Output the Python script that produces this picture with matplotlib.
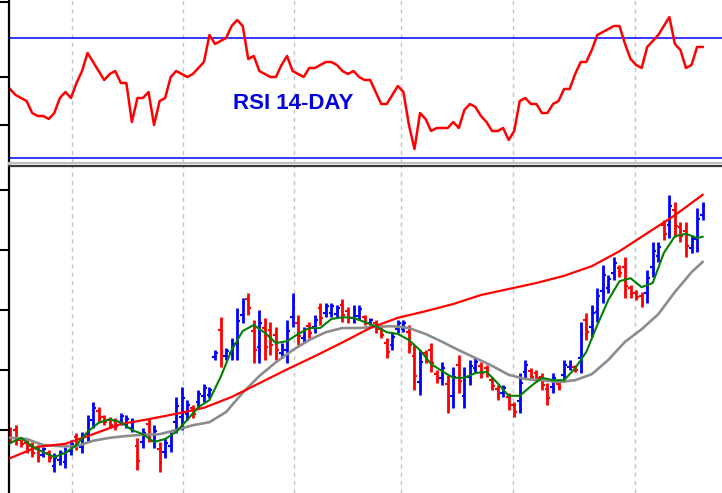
import numpy as np
import matplotlib.pyplot as plt

# daily OHLC bars
high = [50.5, 50.8, 48.8, 48.3, 48.0, 47.5, 47.2, 46.7, 46.2, 46.7,
        47.2, 48.3, 49.5, 49.7, 52.5, 54.7, 53.8, 52.5, 52.2, 52.0,
        52.8, 52.5, 52.0, 48.7, 50.3, 52.0, 50.8, 48.0, 48.7, 49.7,
        55.5, 57.2, 55.0, 54.2, 56.7, 57.7, 57.2, 63.3, 68.8, 63.7,
        65.3, 70.3, 72.0, 72.8, 68.3, 70.0, 68.7, 68.0, 67.2, 64.5,
        68.3, 72.8, 69.2, 67.2, 68.0, 69.2, 71.2, 71.2, 71.2, 70.8,
        71.8, 70.5, 70.8, 70.8, 69.2, 68.7, 68.3, 67.5, 65.3, 66.3,
        68.3, 68.3, 67.5, 64.2, 63.3, 63.3, 64.5, 60.0, 61.3, 59.2,
        60.5, 62.5, 60.5, 61.7, 62.0, 61.3, 60.8, 58.8, 57.5, 57.5,
        56.2, 54.7, 59.5, 61.7, 60.3, 60.0, 59.5, 57.8, 59.5, 58.0,
        61.7, 61.7, 60.8, 68.0, 69.5, 70.8, 73.7, 77.5, 75.8, 78.8,
        77.5, 78.8, 74.2, 73.3, 73.0, 76.7, 81.3, 81.3, 85.0, 89.2,
        88.0, 84.7, 84.7, 82.5, 87.0, 88.0]
low = [47.8, 47.5, 47.2, 46.2, 45.5, 44.7, 45.5, 44.7, 43.0, 44.2,
       43.7, 45.8, 46.7, 46.2, 48.0, 50.3, 51.3, 50.8, 50.3, 50.0,
       50.8, 50.3, 49.7, 43.3, 47.0, 48.0, 47.0, 43.0, 45.3, 46.3,
       49.5, 50.0, 51.7, 52.0, 53.7, 54.7, 55.3, 61.7, 60.5, 61.7,
       61.7, 61.7, 67.8, 69.2, 61.2, 61.2, 61.7, 62.5, 61.7, 62.0,
       61.2, 67.2, 64.2, 64.5, 65.3, 66.2, 67.5, 68.8, 68.8, 68.8,
       68.0, 67.8, 67.8, 68.3, 67.5, 67.5, 66.2, 65.3, 62.0, 63.3,
       66.2, 66.3, 62.8, 56.7, 55.8, 61.2, 59.7, 57.8, 57.5, 52.8,
       53.7, 56.2, 53.7, 57.5, 59.7, 58.7, 58.8, 56.7, 55.0, 55.5,
       53.3, 52.2, 52.8, 58.7, 58.3, 58.0, 56.7, 54.2, 56.2, 56.7,
       58.0, 60.0, 59.7, 59.5, 65.0, 65.5, 68.0, 71.2, 72.8, 75.0,
       75.5, 72.0, 72.0, 71.7, 70.5, 71.2, 75.5, 78.0, 81.7, 82.0,
       82.2, 81.3, 78.8, 79.5, 79.7, 85.0]
opn = [49.8, 50.0, 48.4, 47.8, 47.4, 46.8, 45.9, 46.2, 44.0, 45.0,
       44.7, 46.5, 48.8, 47.2, 49.3, 51.6, 53.2, 52.1, 51.7, 51.5,
       51.4, 51.0, 50.4, 47.3, 48.0, 51.0, 48.1, 46.8, 46.3, 47.3,
       51.3, 52.2, 52.7, 53.6, 54.6, 55.6, 55.9, 62.2, 66.7, 62.3,
       62.8, 64.3, 69.1, 71.9, 66.5, 63.8, 67.0, 66.6, 65.8, 62.8,
       63.3, 68.9, 67.9, 65.3, 67.3, 67.1, 70.3, 69.5, 69.5, 69.4,
       70.8, 69.8, 68.7, 69.0, 68.8, 67.9, 67.8, 66.9, 64.5, 64.2,
       66.8, 66.9, 66.3, 62.3, 58.0, 62.8, 63.3, 59.4, 58.6, 57.6,
       55.7, 60.9, 55.7, 58.8, 60.4, 60.6, 60.3, 58.3, 56.9, 56.1,
       55.5, 54.1, 54.8, 59.6, 59.8, 59.5, 58.8, 56.9, 57.2, 57.7,
       59.1, 60.5, 60.5, 62.0, 68.4, 67.1, 69.7, 73.1, 73.7, 76.1,
       77.0, 77.1, 73.7, 72.9, 72.4, 72.9, 77.2, 79.0, 84.2, 84.2,
       86.6, 83.9, 83.2, 80.4, 81.9, 85.9]
close = [48.6, 48.4, 47.6, 46.8, 46.2, 45.5, 46.8, 45.3, 45.4, 46.1,
         46.3, 47.7, 47.5, 48.8, 51.4, 53.6, 52.0, 51.3, 50.9, 50.6,
         52.3, 51.9, 51.4, 44.9, 49.5, 49.2, 49.8, 44.5, 47.8, 48.8,
         54.0, 55.4, 54.2, 52.7, 56.0, 57.0, 56.7, 62.9, 63.0, 63.2,
         64.4, 68.2, 71.0, 70.3, 63.3, 67.8, 63.8, 64.2, 63.3, 63.9,
         66.5, 71.4, 65.7, 66.5, 66.1, 68.4, 68.6, 70.6, 70.6, 70.3,
         69.1, 68.6, 70.0, 70.2, 68.0, 68.4, 66.8, 65.9, 63.0, 65.5,
         67.8, 67.8, 64.2, 59.0, 61.4, 61.8, 61.1, 58.5, 60.3, 54.7,
         58.8, 58.1, 58.8, 60.6, 61.4, 59.5, 59.4, 57.3, 55.8, 57.0,
         54.2, 53.0, 57.8, 60.9, 58.9, 58.6, 57.5, 55.3, 58.7, 57.1,
         60.8, 61.3, 60.0, 65.9, 66.4, 69.5, 72.3, 75.9, 75.1, 77.8,
         76.1, 74.0, 72.7, 72.2, 71.3, 75.3, 79.9, 80.5, 82.7, 87.4,
         84.0, 82.3, 80.6, 81.8, 85.2, 87.3]

# 14-day RSI, one value per bar
rsi = [53, 51, 50, 49, 45, 44, 44, 43, 45, 50,
       52, 50, 55, 59, 65, 62, 59, 56, 58, 59,
       55, 55, 42, 50, 50, 52, 41, 49, 50, 57,
       59, 58, 57, 58, 60, 62, 71, 68, 69, 70,
       74, 76, 74, 63, 64, 59, 58, 57, 57, 61,
       64, 59, 58, 57, 60, 60, 61, 62, 62, 61,
       59, 58, 59, 57, 56, 56, 52, 48, 48, 51,
       54, 52, 41, 33, 45, 43, 39, 40, 40, 40,
       42, 40, 46, 48, 47, 44, 42, 39, 39, 40,
       36, 39, 49, 50, 48, 48, 45, 45, 48, 49,
       53, 53, 58, 62, 62, 66, 71, 72, 73, 74,
       74, 68, 63, 61, 60, 67, 69, 71, 74, 77,
       68, 66, 60, 61, 67, 67]

# moving averages, sampled along the chart
fast_days = list(range(0, 125, 2)) + [125]
fast_ma = [47.8, 48.7, 47.3, 46.3, 45.5, 46.2, 47.5, 49.7, 51.2, 51.8,
           51.3, 50.0, 49.3, 48.0, 48.5, 49.7, 51.7, 53.8, 55.0, 58.8,
           63.3, 66.5, 67.5, 66.2, 64.5, 64.8, 66.0, 67.0, 67.0, 68.5,
           68.8, 68.7, 68.0, 67.3, 66.3, 66.0, 65.0, 63.3, 61.0, 59.8,
           58.7, 58.7, 59.5, 59.7, 57.8, 55.7, 55.7, 57.3, 58.7, 58.3,
           58.3, 60.3, 63.0, 67.5, 71.7, 74.8, 75.3, 73.8, 74.5, 79.5,
           82.3, 82.7, 82.0, 82.2]
mid_days = list(range(0, 124, 3)) + [125]
mid_ma = [48.7, 48.5, 47.5, 47.3, 47.3, 48.2, 48.7, 49.0, 49.2, 49.3,
          50.0, 50.8, 51.3, 53.0, 56.2, 59.0, 61.3, 63.3, 65.0, 66.3,
          67.0, 67.0, 67.2, 67.3, 67.0, 66.0, 64.7, 63.3, 62.0, 60.7,
          59.2, 58.5, 58.3, 58.0, 58.3, 59.3, 61.7, 64.7, 66.8, 69.3,
          73.0, 76.3, 78.0]
long_days = list(range(0, 126, 5))
long_ma = [45.3, 47.2, 47.7, 49.3, 51.0, 51.8, 52.7, 53.7, 55.5, 57.8,
           60.1, 62.3, 64.6, 67.0, 68.7, 69.8, 71.0, 72.5, 73.5, 74.5,
           75.7, 77.3, 79.8, 82.8, 85.8, 89.2]

month_breaks = [11.2, 31.2, 51.3, 70.6, 90.8, 112.8]
price_ticks = [50, 60, 70, 80, 90]
rsi_ticks = [41, 57, 82]
rsi_levels = [70, 30]

W, H = 722, 493
fig = plt.figure(figsize=(W / 100, H / 100), dpi=100)
fig.patch.set_facecolor('white')
left = 9 / W
ax_r = fig.add_axes([left, 1 - 163 / H, 1 - left, 163 / H])
ax_p = fig.add_axes([left, 0, 1 - left, (H - 166) / H])

days = np.arange(len(close))
xlim = (-0.18, 128.5)

for ax in (ax_r, ax_p):
    ax.set_xlim(*xlim)
    ax.set_facecolor('white')
    for m in month_breaks:
        ax.axvline(m, color='#c4c4c4', lw=1.0, ls=(0, (3, 3)), zorder=0)
    ax.spines['right'].set_visible(False)
    ax.spines['left'].set_linewidth(1.6)
    ax.spines['left'].set_color('black')
    ax.set_xticks([])
    ax.tick_params(axis='y', direction='out', length=6.5, width=1.5,
                   color='black', labelleft=False)

# RSI panel
ax_r.set_ylim(28.33, 82.67)
ax_r.set_yticks(rsi_ticks)
ax_r.spines['top'].set_visible(False)
ax_r.spines['bottom'].set_color('#c0c0c0')
ax_r.spines['bottom'].set_linewidth(1.6)
for lv in rsi_levels:
    ax_r.axhline(lv, color='#0000ff', lw=1.1, zorder=1)
ax_r.plot(days, rsi, color='#ff0000', lw=1.8, zorder=2)
ax_r.text(0.314, 0.368, 'RSI 14-DAY', transform=ax_r.transAxes,
          color='#0000e0', fontsize=16, fontweight='bold',
          family='Liberation Sans', ha='left', va='center')

# price panel
ax_p.set_ylim(39.5, 94.0)
ax_p.set_yticks(price_ticks)
ax_p.spines['bottom'].set_visible(False)
ax_p.spines['top'].set_color('#3a3a3a')
ax_p.spines['top'].set_linewidth(1.6)

opn_a, close_a = np.array(opn), np.array(close)
cols = np.where(close_a >= opn_a, '#0000ff', '#ff0000')
ax_p.vlines(days, low, high, colors=cols, lw=2.0, zorder=2)
ax_p.hlines(opn_a, days - 0.5, days, colors=cols, lw=1.5, zorder=2)
ax_p.hlines(close_a, days, days + 0.5, colors=cols, lw=1.5, zorder=2)

ax_p.plot(mid_days, mid_ma, color='#8c8c8c', lw=1.9, zorder=3)
ax_p.plot(long_days, long_ma, color='#ff0000', lw=1.6, zorder=3)
ax_p.plot(fast_days, fast_ma, color='#008000', lw=1.5, zorder=4)

fig.savefig('out.png', dpi=100)
